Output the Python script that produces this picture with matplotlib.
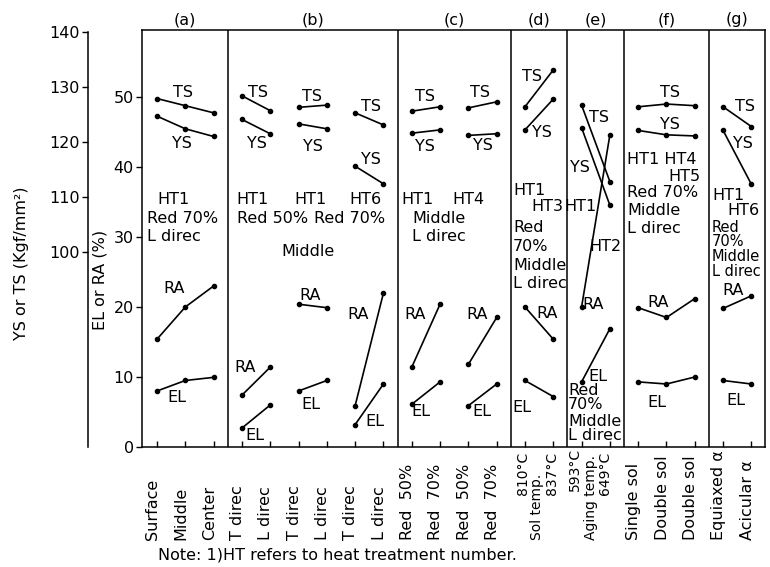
import matplotlib
matplotlib.use("Agg")
import matplotlib.pyplot as plt

plt.rcParams['font.family'] = ['DejaVu Sans']
plt.rcParams['font.size'] = 11.5

# x categories (one per measured point)
categories = ["Surface", "Middle", "Center",
              "T direc", "L direc", "T direc", "L direc", "T direc", "L direc",
              "Red  50%", "Red  70%", "Red  50%", "Red  70%",
              "810°C", "837°C", "593°C", "649°C",
              "Single sol", "Double sol", "Double sol",
              "Equiaxed α", "Acicular α"]
# connected runs of points
groups = [(0, 3), (3, 5), (5, 7), (7, 9), (9, 11), (11, 13),
          (13, 15), (15, 17), (17, 20), (20, 22)]
# panels (a)-(g) as index ranges
panels = [("(a)", 0, 3), ("(b)", 3, 9), ("(c)", 9, 13), ("(d)", 13, 15),
          ("(e)", 15, 17), ("(f)", 17, 20), ("(g)", 20, 22)]

# YS / TS in Kgf/mm2
ts = [127.9, 126.6, 125.3, 128.4, 125.7, 126.3, 126.7, 125.3, 123.1,
      125.6, 126.4, 126.2, 127.3, 126.4, 133.1, 126.7, 112.8,
      126.4, 126.9, 126.6, 126.4, 122.8]
ys = [124.7, 122.4, 121.0, 124.1, 121.5, 123.3, 122.4, 115.6, 112.4,
      121.6, 122.2, 121.2, 121.5, 122.2, 127.8, 122.6, 108.5,
      122.1, 121.3, 121.1, 122.1, 112.3]
# EL / RA in %
ra = [15.4, 20.0, 23.0, 7.4, 11.4, 20.4, 19.9, 5.9, 22.0,
      11.4, 20.4, 11.8, 18.5, 20.0, 15.4, 20.0, 44.6,
      19.9, 18.5, 21.2, 19.8, 21.6]
el = [8.0, 9.5, 9.95, 2.7, 6.0, 8.0, 9.5, 3.2, 9.0,
      6.1, 9.3, 5.9, 9.0, 9.5, 7.2, 9.3, 16.9,
      9.3, 9.0, 10.0, 9.5, 9.0]

# labels inside the panels: (text, x, y in EL/RA units, ha, size)
notes = [
    ("TS", 0.92, 50.7, "center"), ("YS", 0.88, 43.4, "center"),
    ("HT1", 0.0, 35.3, "left"), ("Red 70%", -0.35, 32.6, "left"),
    ("L direc", -0.35, 30.0, "left"),
    ("RA", 0.6, 22.7, "center"), ("EL", 0.71, 7.0, "center"),

    ("TS", 3.57, 50.7, "center"), ("YS", 3.53, 43.4, "center"),
    ("TS", 5.48, 50.0, "center"), ("YS", 5.51, 42.9, "center"),
    ("TS", 7.56, 48.6, "center"), ("YS", 7.56, 41.1, "center"),
    ("HT1", 3.39, 35.3, "center"), ("HT1", 5.41, 35.3, "center"),
    ("HT6", 7.35, 35.3, "center"),
    ("Red 50%", 4.1, 32.6, "center"), ("Red 70%", 6.82, 32.6, "center"),
    ("Middle", 5.34, 27.9, "center"),
    ("RA", 3.11, 11.3, "center"), ("EL", 3.46, 1.7, "center"),
    ("RA", 5.41, 21.7, "center"), ("EL", 5.44, 6.1, "center"),
    ("RA", 7.1, 18.9, "center"), ("EL", 7.7, 3.7, "center"),

    ("TS", 9.47, 50.0, "center"), ("YS", 9.47, 42.9, "center"),
    ("TS", 11.41, 50.6, "center"), ("YS", 11.52, 43.0, "center"),
    ("HT1", 9.19, 35.3, "center"), ("HT4", 10.99, 35.3, "center"),
    ("Middle", 9.01, 32.6, "left"), ("L direc", 9.01, 30.0, "left"),
    ("RA", 9.12, 18.9, "center"), ("EL", 9.33, 5.0, "center"),
    ("RA", 11.31, 18.9, "center"), ("EL", 11.48, 5.0, "center"),

    ("TS", 13.25, 52.9, "center"), ("YS", 13.6, 44.9, "center"),
    ("HT1", 12.58, 36.7, "left"), ("HT3", 14.35, 34.4, "right"),
    ("Red", 12.58, 31.3, "left"), ("70%", 12.58, 28.6, "left"),
    ("Middle", 12.58, 25.9, "left"), ("L direc", 12.58, 23.4, "left"),
    ("RA", 13.78, 19.1, "center"), ("EL", 12.9, 5.6, "center"),

    ("TS", 15.62, 47.0, "center"), ("YS", 14.95, 39.9, "center"),
    ("HT1", 14.95, 34.3, "center"), ("HT2", 15.83, 28.6, "center"),
    ("RA", 15.4, 20.3, "center"), ("EL", 15.58, 10.0, "center"),
    ("Red", 14.52, 8.1, "left"), ("70%", 14.52, 6.0, "left"),
    ("Middle", 14.52, 3.7, "left"), ("L direc", 14.52, 1.6, "left"),

    ("TS", 18.13, 50.6, "center"), ("YS", 18.13, 46.0, "center"),
    ("HT1 HT4", 16.61, 41.0, "left"), ("HT5", 19.19, 38.7, "right"),
    ("Red 70%", 16.61, 36.4, "left"), ("Middle", 16.61, 33.8, "left"),
    ("L direc", 16.61, 31.2, "left"),
    ("RA", 17.7, 20.7, "center"), ("EL", 17.67, 6.4, "center"),

    ("TS", 20.78, 48.6, "center"), ("YS", 20.71, 43.4, "center"),
    ("HT1", 19.61, 35.9, "left"), ("HT6", 21.3, 33.8, "right"),
    ("RA", 20.35, 22.4, "center"), ("EL", 20.46, 6.7, "center"),
]
# tighter stacked block in panel (g)
notes_g = [("Red", 19.61, 31.3), ("70%", 19.61, 29.3),
           ("Middle", 19.61, 27.2), ("L direc", 19.61, 25.0)]

fig = plt.figure(figsize=(7.7, 5.67), dpi=100)
ax = fig.add_axes([142 / 770, 120 / 567, 623 / 770, 417 / 567])
ax.set_xlim(-0.53, 21.48)
ax.set_ylim(0, 59.57)

ax2 = ax.twinx()
ax2.set_ylim(64.55, 140.36)

for a, b in groups:
    xs = list(range(a, b))
    for axx, vals in ((ax2, ts), (ax2, ys), (ax, ra), (ax, el)):
        axx.plot(xs, vals[a:b], color="black", lw=1.2, marker="o", ms=3)

for name, a, b in panels:
    if a > 0:
        ax.axvline(a - 0.5, color="black", lw=1.1)
    ax.text((a + b - 1) / 2, 1.024, name, transform=ax.get_xaxis_transform(),
            ha="center", va="center")

for txt, x, y, ha in notes:
    ax.text(x, y, txt, ha=ha, va="center")
for txt, x, y in notes_g:
    ax.text(x, y, txt, ha="left", va="center", fontsize=10.5)

# frame and axes
for sp in ax.spines.values():
    sp.set_linewidth(1.1)
ax.set_xticks(range(len(categories)))
ax.tick_params(axis="x", direction="in", length=4, width=1, labelbottom=False)
ax.set_yticks(range(0, 60, 10))
ax.tick_params(axis="y", direction="out", length=4, width=1, pad=2)

for side in ("right", "top", "bottom"):
    ax2.spines[side].set_visible(False)
ax2.spines["left"].set_visible(True)
ax2.spines["left"].set_linewidth(1.1)
ax2.spines["left"].set_position(("outward", 39))
ax2.spines["left"].set_bounds(64.55, 140)
ax2.yaxis.set_ticks_position("left")
ax2.set_yticks(range(100, 150, 10))
ax2.tick_params(axis="y", direction="out", length=4, width=1, pad=2)

# category labels under the axis
tr = ax.get_xaxis_transform()
for i, c in enumerate(categories):
    if 13 <= i <= 16:
        continue
    ax.text(i - 0.15, -0.223, c, transform=tr, rotation=90, ha="center", va="bottom")
small = dict(transform=tr, rotation=90, ha="center", va="bottom", fontsize=10)
ax.text(12.93, -0.115, "810°C", **small)
ax.text(13.43, -0.223, "Sol temp.", **small)
ax.text(13.96, -0.115, "837°C", **small)
ax.text(14.78, -0.105, "593°C", **small)
ax.text(15.33, -0.223, "Aging temp.", **small)
ax.text(15.82, -0.115, "649°C", **small)

fig.text(100 / 770, 1 - 280 / 567, "EL or RA (%)", rotation=90, ha="center", va="center")
fig.text(22 / 770, 1 - 263 / 567, "YS or TS (Kgf/mm²)", rotation=90, ha="center", va="center")
fig.text(158 / 770, 1 - 555 / 567, "Note: 1)HT refers to heat treatment number.",
         ha="left", va="center")

fig.savefig("out.png", dpi=100)
